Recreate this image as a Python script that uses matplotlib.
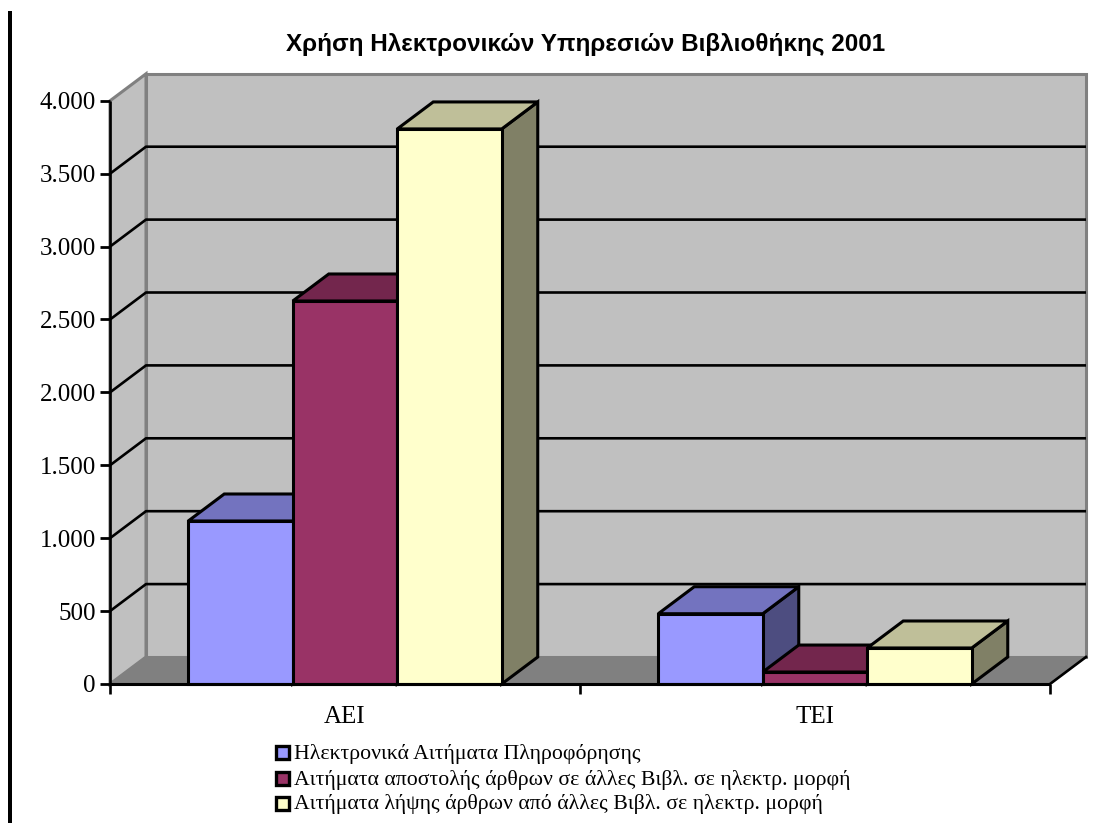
import matplotlib
matplotlib.use("Agg")
import matplotlib.pyplot as plt
from matplotlib.patches import Polygon, Rectangle

categories = ["ΑΕΙ", "ΤΕΙ"]
series_names = [
    "Ηλεκτρονικά Αιτήματα Πληροφόρησης",
    "Αιτήματα αποστολής άρθρων σε άλλες Βιβλ. σε ηλεκτρ. μορφή",
    "Αιτήματα λήψης άρθρων από άλλες Βιβλ. σε ηλεκτρ. μορφή",
]
info_requests = [1118, 482]
send_requests = [2627, 82]
receive_requests = [3807, 247]
yticks = [0, 500, 1000, 1500, 2000, 2500, 3000, 3500, 4000]
ytick_labels = ["0", "500", "1.000", "1.500", "2.000", "2.500", "3.000", "3.500", "4.000"]
title = "Χρήση Ηλεκτρονικών Υπηρεσιών Βιβλιοθήκης 2001"

W, H = 1101, 823
X0, Y0 = 110, 684      # pixel position of the front axis origin
PX_X = 470.0           # pixels per category
PX_Y = 0.1458          # pixels per unit
DX = 36 / PX_X         # depth of the fake 3d box
DY = 27 / PX_Y
BAR_W = 104.5 / PX_X
YMAX = 4000
TICK = 10 / PX_Y

face = ["#9999FF", "#993366", "#FFFFCC"]
top = ["#7373BF", "#73264D", "#BFBF99"]
side = ["#4D4D80", "#4D1A33", "#808066"]
values = [info_requests, send_requests, receive_requests]

fig = plt.figure(figsize=(W / 100, H / 100), dpi=100)
ax = fig.add_axes([0, 0, 1, 1])
ax.set_xlim(-X0 / PX_X, (W - X0) / PX_X)
ax.set_ylim((Y0 - H) / PX_Y, Y0 / PX_Y)
ax.axis("off")

serif = "Liberation Serif"
sans = "Liberation Sans"

# walls and floor
ax.add_patch(Polygon([(DX, DY), (2 + DX, DY), (2 + DX, YMAX + DY), (DX, YMAX + DY)],
                     fc="#C0C0C0", ec="#808080", lw=2.2, zorder=1))
ax.add_patch(Polygon([(0, 0), (DX, DY), (DX, YMAX + DY), (0, YMAX)],
                     fc="#C0C0C0", ec="#808080", lw=2.2, zorder=1))
ax.add_patch(Polygon([(0, 0), (2, 0), (2 + DX, DY), (DX, DY)],
                     fc="#808080", ec="#808080", lw=1, zorder=1))

# gridlines
for v in yticks[1:-1]:
    ax.plot([0, DX, 2 + DX], [v, v + DY, v + DY], color="black", lw=1.9, zorder=2,
            solid_capstyle="butt")

# axes
ax.plot([0, 0], [-TICK, YMAX], color="black", lw=1.9, zorder=5, solid_capstyle="butt")
ax.plot([0, 2], [0, 0], color="black", lw=2.2, zorder=5, solid_capstyle="butt")
ax.plot([2, 2 + DX], [0, DY], color="black", lw=1.9, zorder=2)
for c in [1, 2]:
    ax.plot([c, c], [-TICK, 0], color="black", lw=1.9, zorder=5, solid_capstyle="butt")
for v, lab in zip(yticks, ytick_labels):
    ax.plot([-10 / PX_X, 0], [v, v], color="black", lw=2, zorder=5, solid_capstyle="butt")
    ax.text(-14 / PX_X, v, lab, ha="right", va="center_baseline", fontsize=18,
            family=serif, color="black")

# bars, drawn left to right so nearer faces overlap the sides
for c in range(len(categories)):
    start = c + 0.5 - 1.5 * BAR_W
    for s in range(3):
        x = start + s * BAR_W
        v = values[s][c]
        z = 3 + s * 0.1
        ax.add_patch(Polygon([(x + BAR_W, 0), (x + BAR_W + DX, DY), (x + BAR_W + DX, v + DY), (x + BAR_W, v)],
                             fc=side[s], ec="black", lw=2.2, zorder=z, joinstyle="miter"))
        ax.add_patch(Polygon([(x, v), (x + BAR_W, v), (x + BAR_W + DX, v + DY), (x + DX, v + DY)],
                             fc=top[s], ec="black", lw=2.2, zorder=z, joinstyle="miter"))
        ax.add_patch(Rectangle((x, 0), BAR_W, v, fc=face[s], ec="black", lw=2.2, zorder=z + 0.01,
                               joinstyle="miter"))
    ax.text(c + 0.5, -33 / PX_Y, categories[c], ha="center", va="center", fontsize=18,
            family=serif, color="black")

# title, legend and left rule are placed in figure pixels
fig.text(585.5 / W, 1 - 45 / H, title, ha="center", va="center", fontsize=17.5,
         fontweight="bold", family=sans, color="black")
legend_y = [752, 778, 803]
for name, color, py in zip(series_names, face, legend_y):
    fig.add_artist(Rectangle((275.5 / W, 1 - (py + 6.5) / H), 13 / W, 13 / H, transform=fig.transFigure,
                             fc=color, ec="black", lw=2.4))
    fig.text(294 / W, 1 - (py + 1.5) / H, name, ha="left", va="center", fontsize=15.7,
             family=serif, color="black")
fig.add_artist(Rectangle((8 / W, 0), 4 / W, 1 - 11 / H, transform=fig.transFigure,
                         fc="black", ec="none"))

fig.savefig("out.png", dpi=100, facecolor="white")
